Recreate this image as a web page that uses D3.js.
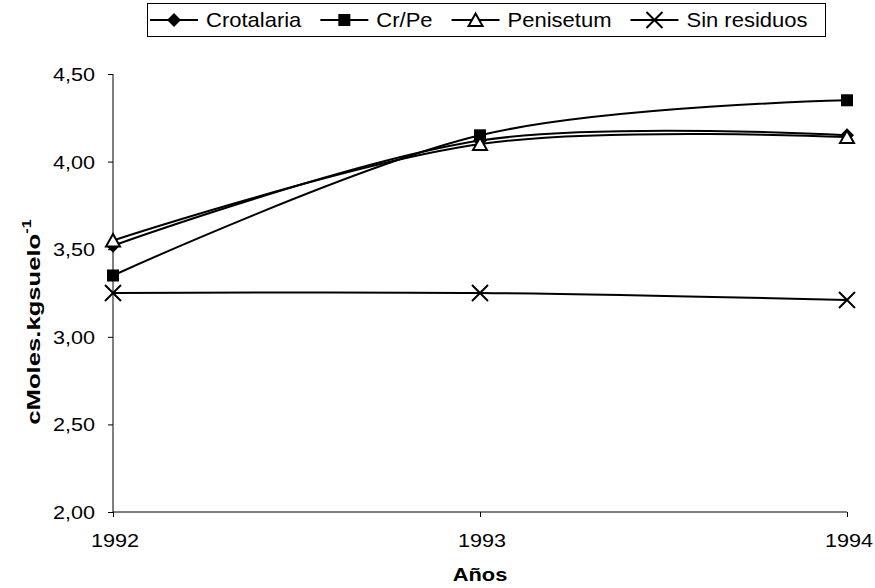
<!DOCTYPE html>
<html>
<head>
<meta charset="utf-8">
<script src="https://cdn.jsdelivr.net/npm/d3@7"></script>
<style>
body{margin:0;background:#fff}
text{font-family:"Liberation Sans",Arial,sans-serif;fill:#000}
</style>
</head>
<body>
<svg id="chart" width="875" height="588"></svg>
<script>
//---data---
var years = ["1992", "1993", "1994"]
var crotalaria = [3.52, 4.12, 4.15]
var crPe = [3.35, 4.15, 4.35]
var penisetum = [3.55, 4.10, 4.14]
var sinResiduos = [3.25, 3.25, 3.21]
var yTicks = [2, 2.5, 3, 3.5, 4, 4.5]
var seriesNames = ["Crotalaria", "Cr/Pe", "Penisetum", "Sin residuos"]
var seriesSymbols = ["diamond", "square", "triangle", "cross"]
var seriesValues = [crotalaria, crPe, penisetum, sinResiduos]

var svg = d3.select("#chart")
svg.append("rect").attr("width", 875).attr("height", 588).attr("fill", "white")

var x = d3.scalePoint().domain(years).range([113, 847])
var y = d3.scaleLinear().domain([2, 4.5]).range([512, 74])

//---draws one marker at 0,0 inside g---
function drawSymbol(g, kind)
{
    if (kind == "diamond")
        g.append("path").attr("d", "M0,-7L7,0L0,7L-7,0Z").attr("fill", "black")
    else if (kind == "square")
        g.append("rect").attr("x", -6).attr("y", -6).attr("width", 12).attr("height", 12).attr("fill", "black")
    else if (kind == "triangle")
        g.append("path").attr("d", "M0,-6.5L7,6L-7,6Z").attr("fill", "white")
        .attr("stroke", "black").attr("stroke-width", 2).attr("stroke-linejoin", "miter")
    else
    {
        g.append("path").attr("d", "M-8,-8L8,8M-8,8L8,-8").attr("stroke", "black").attr("stroke-width", 2)
    }
}

//---axes---
var yAxis = svg.append("g").attr("transform", "translate(113,0)")
    .call(d3.axisLeft(y).tickValues(yTicks).tickSize(5).tickFormat(function(d){return d3.format(".2f")(d).replace(".", ",")}))
yAxis.select(".domain").attr("stroke", "black").attr("stroke-width", 1).attr("d", "M0,74V512")
yAxis.selectAll(".tick line").attr("stroke", "black")
yAxis.selectAll(".tick text")
    .attr("x", null).attr("dy", null)
    .attr("transform", "translate(-18,6.5) scale(1.2,1)")
    .attr("text-anchor", "end")
    .attr("font-size", 18)
    .attr("font-family", "'Liberation Sans',Arial,sans-serif")

var xAxis = svg.append("g").attr("transform", "translate(0,512)")
    .call(d3.axisBottom(x).tickSize(5).tickSizeOuter(0))
xAxis.select(".domain").attr("stroke", "black").attr("d", "M113,0H847")
xAxis.selectAll(".tick line").attr("stroke", "black")
xAxis.selectAll(".tick text")
    .attr("y", null).attr("dy", null)
    .attr("transform", "translate(1.5,35) scale(1.2,1)")
    .attr("text-anchor", "middle")
    .attr("font-size", 18)
    .attr("font-family", "'Liberation Sans',Arial,sans-serif")

//---axis titles---
svg.append("text")
    .attr("transform", "translate(480,581) scale(1.15,1)")
    .attr("text-anchor", "middle")
    .attr("font-size", 19)
    .attr("font-weight", "bold")
    .text("Años")

var yTitle = svg.append("text")
    .attr("transform", "translate(40,322) rotate(-90) scale(1.35,1)")
    .attr("text-anchor", "middle")
    .attr("font-size", 19)
    .attr("font-weight", "bold")
yTitle.append("tspan").text("cMoles.kgsuelo")
yTitle.append("tspan").attr("font-size", 12).attr("dy", -9).text("-1")

//---series---
var line = d3.line()
    .x(function(d, i){return x(years[i])})
    .y(function(d){return y(d)})
    .curve(d3.curveCardinal.tension(0))

var seriesG = svg.append("g")
seriesValues.forEach(function(vals)
{
    seriesG.append("path").attr("d", line(vals))
    .attr("fill", "none").attr("stroke", "black").attr("stroke-width", 2)
})
seriesValues.forEach(function(vals, s)
{
    vals.forEach(function(v, i)
    {
        var g = seriesG.append("g").attr("transform", "translate(" + x(years[i]) + "," + y(v) + ")")
        drawSymbol(g, seriesSymbols[s])
    })
})

//---legend---
var legendG = svg.append("g")
legendG.append("rect")
    .attr("x", 147.5).attr("y", 3.5).attr("width", 678).attr("height", 33)
    .attr("fill", "white").attr("stroke", "black").attr("stroke-width", 1)
var lx = 150
var ly = 20
seriesNames.forEach(function(name, s)
{
    legendG.append("line").attr("x1", lx).attr("x2", lx + 48).attr("y1", ly).attr("y2", ly)
    .attr("stroke", "black").attr("stroke-width", 2)
    drawSymbol(legendG.append("g").attr("transform", "translate(" + (lx + 24) + "," + ly + ")"), seriesSymbols[s])
    var t = legendG.append("text")
    .attr("transform", "translate(" + (lx + 56) + "," + (ly + 7) + ") scale(1.1,1)")
    .attr("font-size", 20)
    .text(name)
    var w = t.node().getComputedTextLength() * 1.1
    lx = lx + 56 + w + 19
})
</script>
</body>
</html>
